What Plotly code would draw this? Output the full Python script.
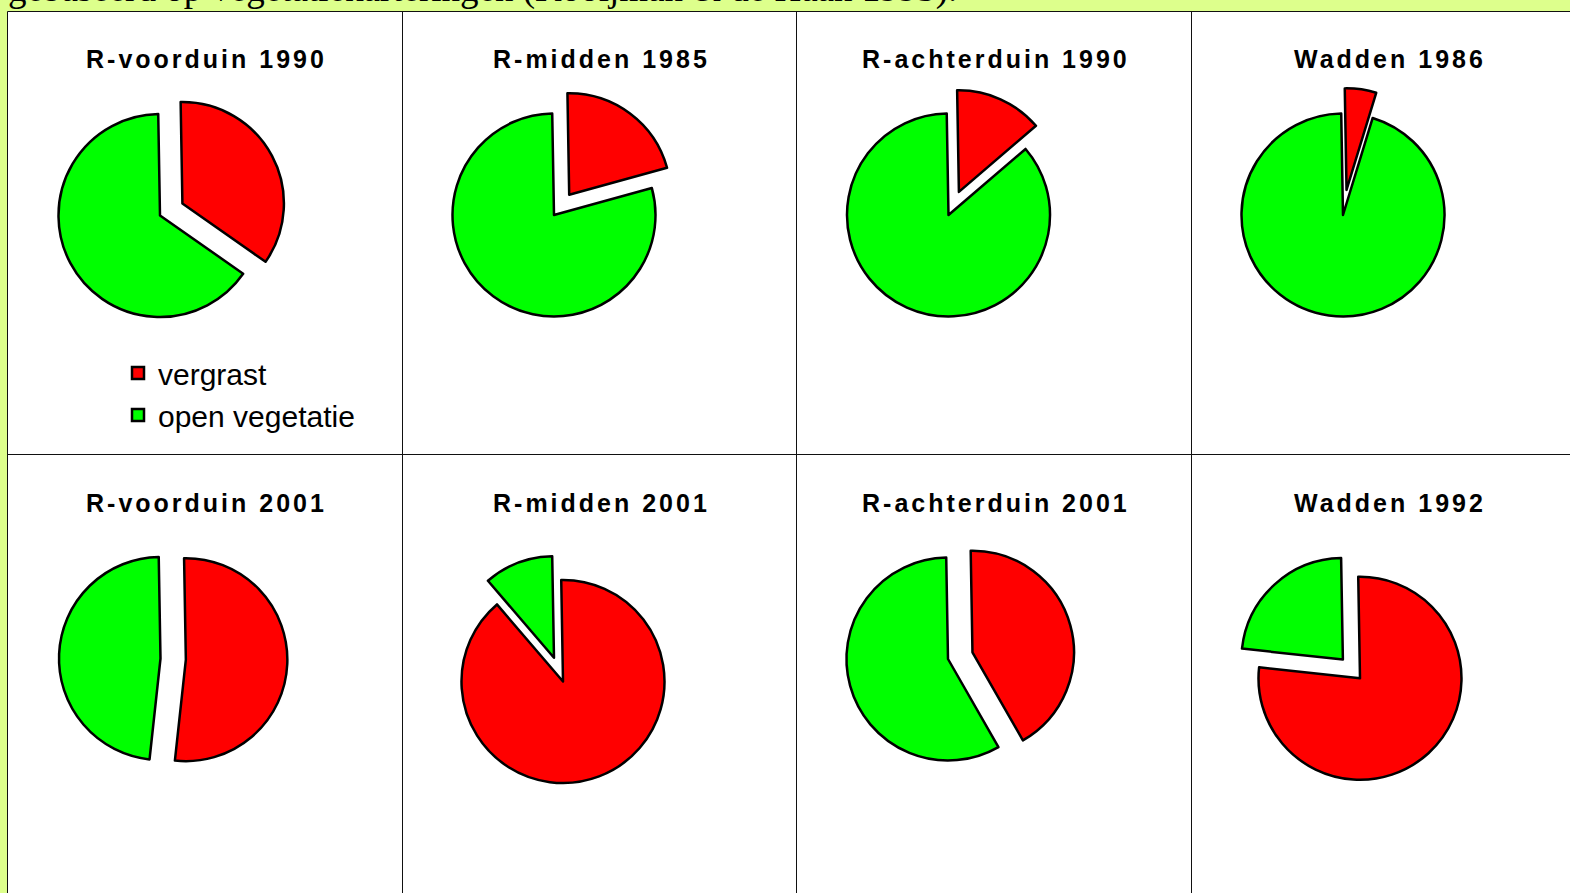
import plotly.graph_objects as go

# ---------------- data ----------------
titles = ["R-voorduin 1990", "R-midden 1985", "R-achterduin 1990", "Wadden 1986",
          "R-voorduin 2001", "R-midden 2001", "R-achterduin 2001", "Wadden 1992"]
labels = ["vergrast", "open vegetatie"]
vergrast = [35, 21, 14, 5, 52, 89, 42, 77]
open_vegetatie = [65, 79, 86, 95, 48, 11, 58, 23]
pulled_slice = ["vergrast", "vergrast", "vergrast", "vergrast",
                "vergrast", "open vegetatie", "vergrast", "open vegetatie"]
caption = "gebaseerd op vegetatiekarteringen (Kooijman & de Haan 1995)."

# ---------------- layout constants ----------------
W, H = 1570, 893
R = 101.5          # pie radius in px
PULL = 0.25
pie_centers = [(160, 215.5), (554, 215), (948.5, 215), (1343, 215),
               (160.5, 658.5), (563, 681.5), (948, 659), (1360, 678.3)]
col_lines = [402.5, 796.5, 1191.5]
row_line = 454.5
table_left, table_top = 7.5, 11.5
title_y = [58.5, 502.5]
cell_w = 394.5

colors = ["#FF0000", "#00FF00"]
bg = "#DDFF8C"

fig = go.Figure()
half = R * (1 + PULL)
for i, t in enumerate(titles):
    cx, cy = pie_centers[i]
    vals = [vergrast[i], open_vegetatie[i]]
    pulls = [PULL if lab == pulled_slice[i] else 0 for lab in labels]
    fig.add_trace(go.Pie(
        labels=labels, values=vals, pull=pulls, sort=False,
        direction="clockwise", rotation=-1,
        marker=dict(colors=colors, line=dict(color="black", width=2.5)),
        textinfo="none", hoverinfo="label+percent",
        showlegend=(i == 0), name=t,
        domain=dict(x=[(cx - half) / W, (cx + half) / W],
                    y=[1 - (cy + half) / H, 1 - (cy - half) / H]),
    ))

shapes = [dict(type="rect", xref="paper", yref="paper",
               x0=table_left / W, x1=1.02, y0=-0.02, y1=1 - table_top / H,
               fillcolor="white", line=dict(color="#111", width=1), layer="below")]
for x in col_lines:
    shapes.append(dict(type="line", xref="paper", yref="paper",
                       x0=x / W, x1=x / W, y0=-0.02, y1=1 - table_top / H,
                       line=dict(color="#111", width=1), layer="below"))
shapes.append(dict(type="line", xref="paper", yref="paper",
                   x0=table_left / W, x1=1.02, y0=1 - row_line / H, y1=1 - row_line / H,
                   line=dict(color="#111", width=1), layer="below"))

annotations = []
for i, t in enumerate(titles):
    col = i % 4
    row = i // 4
    xc = table_left + cell_w * (col + 0.5) + 2
    annotations.append(dict(
        xref="paper", yref="paper", x=xc / W, y=1 - title_y[row] / H,
        xanchor="center", yanchor="middle", showarrow=False,
        text='<span style="letter-spacing:3px">' + t + '</span>',
        font=dict(family="Liberation Sans, Arial", size=25, color="black", weight="bold"),
    ))
annotations.append(dict(
    xref="paper", yref="paper", x=6 / W, y=1, xanchor="left", yanchor="bottom",
    yshift=-12, showarrow=False, text=caption,
    font=dict(family="Liberation Serif, Times New Roman", size=37, color="black"),
))

fig.update_layout(
    width=W, height=H, autosize=False,
    margin=dict(l=0, r=0, t=0, b=0),
    paper_bgcolor=bg, plot_bgcolor=bg,
    shapes=shapes, annotations=annotations,
    legend=dict(x=118 / W, xanchor="left", y=1 - 347 / H, yanchor="top",
                bgcolor="rgba(0,0,0,0)", font=dict(family="Liberation Sans, Arial",
                                                   size=30, color="black"),
                traceorder="normal"),
)

fig.write_html("out.html", config={"displayModeBar": False},
               post_script="document.body.style.margin='0px';")
